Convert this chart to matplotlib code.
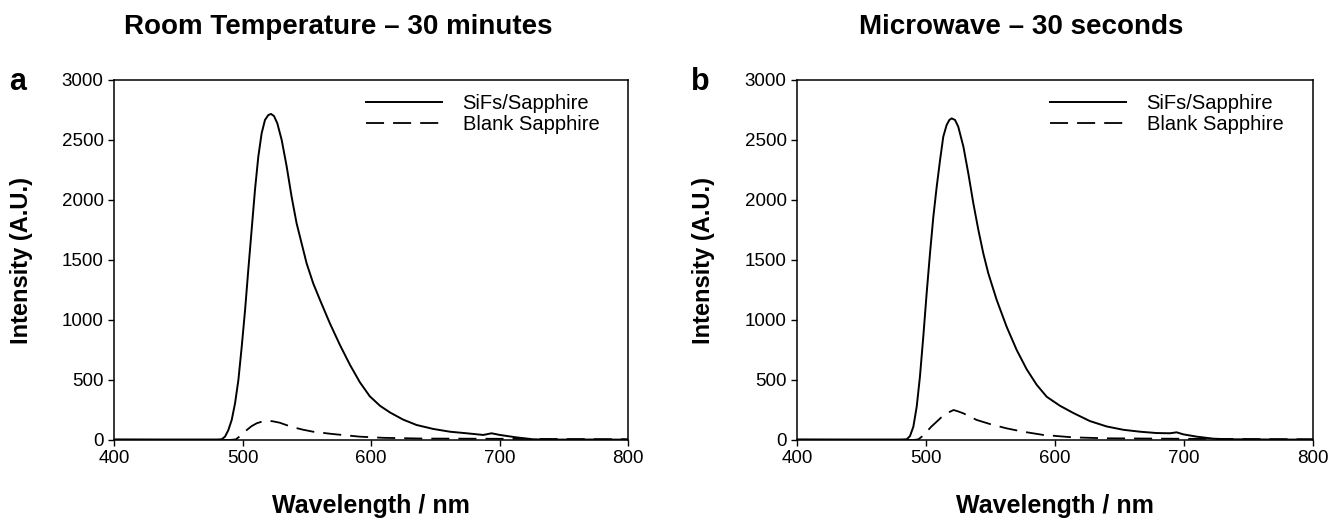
import matplotlib
matplotlib.use("Agg")
import matplotlib.pyplot as plt

plt.rcParams["font.family"] = ["Liberation Sans", "DejaVu Sans"]

# ---------------------------------------------------------------------------
# Data
# ---------------------------------------------------------------------------
rt_sifs_nm = [400, 440, 480, 483.8, 486.4, 489, 491.6, 494.2, 496.8, 499.4, 502,
              504.5, 507.1, 509.7, 512.3, 514.9, 517.5, 520.1, 522.2, 524.5,
              527.1, 530.5, 534.4, 538.2, 542.1, 546, 549.9, 555, 560.3, 568,
              575.9, 583.7, 591.4, 599, 607, 615, 625, 635.5, 648.5, 661.5,
              674.4, 687.4, 693.8, 700.3, 713, 726, 739, 770, 800]
rt_sifs_int = [5, 4, 4, 6, 28, 83, 167, 306, 500, 778, 1083,
               1417, 1750, 2083, 2361, 2556, 2667, 2708, 2717, 2700,
               2639, 2500, 2278, 2028, 1806, 1639, 1472, 1306, 1167, 972,
               790, 625, 480, 365, 285, 228, 170, 125, 92, 69,
               56, 42, 56, 42, 22, 6, 3, 4, 3]

rt_blank_nm = [400, 490, 494.8, 499, 503.3, 507, 511, 515, 520, 524, 529,
               534, 539.5, 547, 555, 570, 591, 610, 640, 700, 750, 800]
rt_blank_int = [0, 0, 5, 40, 83, 115, 139, 153, 161, 155, 144,
                125, 106, 86, 69, 50, 28, 18, 12, 10, 8, 6]

mw_sifs_nm = [400, 440, 480, 485.1, 487.6, 490.2, 492.8, 495.3, 497.9, 500.5,
              503.1, 505.7, 508.3, 510.9, 513.4, 516, 518.1, 519.9, 522.5, 525,
              529, 532.8, 536.7, 540.6, 544.4, 548.3, 554.8, 562.5, 570.3, 578,
              585.8, 593.6, 603.9, 614.2, 627, 640, 653, 666, 678.8, 689,
              694.3, 699.5, 709.8, 722.7, 735, 770, 800]
mw_sifs_int = [5, 4, 4, 6, 33, 111, 278, 528, 861, 1222,
               1556, 1861, 2111, 2333, 2528, 2625, 2667, 2680, 2667, 2611,
               2444, 2222, 1972, 1750, 1556, 1389, 1167, 944, 750, 590,
               460, 360, 285, 225, 158, 113, 85, 69, 58, 56,
               64, 47, 28, 11, 6, 4, 3]

mw_blank_nm = [400, 490, 494, 497, 500.5, 504, 508.3, 512, 516, 521.4, 525,
               529, 534, 539.3, 549.6, 562.5, 575.4, 591, 614, 640, 700, 800]
mw_blank_int = [0, 0, 5, 30, 69, 110, 153, 190, 222, 250, 238,
                222, 195, 167, 133, 97, 69, 42, 22, 14, 10, 6]

titles = ["Room Temperature \u2013 30 minutes", "Microwave \u2013 30 seconds"]
letters = ["a", "b"]
legend_labels = ["SiFs/Sapphire", "Blank Sapphire"]
x_ticks = [400, 500, 600, 700, 800]
y_ticks = [0, 500, 1000, 1500, 2000, 2500, 3000]

panels = [
    (rt_sifs_nm, rt_sifs_int, rt_blank_nm, rt_blank_int),
    (mw_sifs_nm, mw_sifs_int, mw_blank_nm, mw_blank_int),
]

# ---------------------------------------------------------------------------
# Figure
# ---------------------------------------------------------------------------
W, H = 1329, 519
fig = plt.figure(figsize=(W / 100, H / 100), dpi=100)

axes_px = [(114, 628), (797, 1313)]
top_px, bot_px = 80, 440
title_x_px = [338, 1021]
letter_x_px = [18, 700]

for i, (s_nm, s_int, b_nm, b_int) in enumerate(panels):
    x0, x1 = axes_px[i]
    ax = fig.add_axes([x0 / W, 1 - bot_px / H, (x1 - x0) / W, (bot_px - top_px) / H])

    ax.plot(s_nm, s_int, color="black", lw=1.4, label=legend_labels[0],
            solid_joinstyle="round")
    ax.plot(b_nm, b_int, color="black", lw=1.3, dashes=(10, 5), label=legend_labels[1])

    ax.set_xlim(400, 800)
    ax.set_ylim(0, 3000)
    ax.set_xticks(x_ticks)
    ax.set_yticks(y_ticks)
    ax.tick_params(direction="out", length=4.5, width=1.0, labelsize=13.5,
                   top=False, right=False, pad=3)
    for sp in ax.spines.values():
        sp.set_linewidth(1.1)

    ax.set_xlabel("Wavelength / nm", fontsize=18, fontweight="bold")
    ax.xaxis.set_label_coords(0.5, -0.15)
    ax.set_ylabel("Intensity (A.U.)", fontsize=17, fontweight="bold")
    ax.yaxis.set_label_coords(-0.158, 0.5)

    ax.legend(loc="upper left", bbox_to_anchor=(0.49, 0.96), frameon=False,
              fontsize=14.5, handlelength=3.8, handletextpad=1.0,
              labelspacing=0.1, borderpad=0, borderaxespad=0)

    fig.text(title_x_px[i] / W, 1 - 27 / H, titles[i], ha="center", va="center",
             fontsize=20, fontweight="bold")
    fig.text(letter_x_px[i] / W, 1 - 82 / H, letters[i], ha="center", va="center",
             fontsize=22, fontweight="bold")

fig.savefig("out.png", dpi=100)
